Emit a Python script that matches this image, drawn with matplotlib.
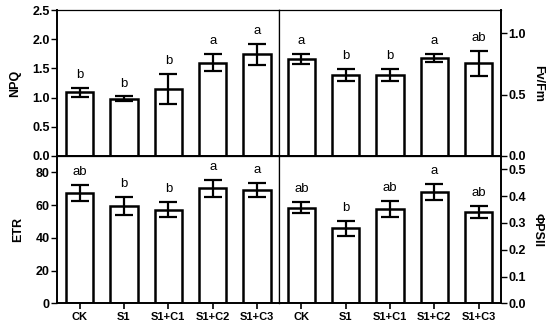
import matplotlib
matplotlib.use("Agg")
import matplotlib.pyplot as plt
import numpy as np

plt.rcParams['font.family'] = ['Liberation Sans', 'DejaVu Sans']

groups = ['CK', 'S1', 'S1+C1', 'S1+C2', 'S1+C3']

npq = [1.09, 0.98, 1.15, 1.60, 1.74]
npq_err = [0.08, 0.04, 0.26, 0.15, 0.18]
npq_sig = ['b', 'b', 'b', 'a', 'a']

fvfm = [0.79, 0.66, 0.66, 0.80, 0.755]
fvfm_err = [0.04, 0.05, 0.05, 0.035, 0.10]
fvfm_sig = ['a', 'b', 'b', 'a', 'ab']

etr = [67.5, 59.3, 57.3, 70.3, 69.2]
etr_err = [5.0, 5.6, 4.4, 5.3, 4.1]
etr_sig = ['ab', 'b', 'b', 'a', 'a']

phipsii = [0.357, 0.280, 0.353, 0.417, 0.341]
phipsii_err = [0.020, 0.028, 0.030, 0.030, 0.021]
phipsii_sig = ['ab', 'b', 'ab', 'a', 'ab']

fig = plt.figure(figsize=(5.5, 3.25), dpi=100)

ax_npq = fig.add_axes([0.1045, 0.52, 0.403, 0.449])
ax_fv = fig.add_axes([0.5075, 0.52, 0.403, 0.449])
ax_etr = fig.add_axes([0.1045, 0.0668, 0.403, 0.4532])
ax_phi = fig.add_axes([0.5075, 0.0668, 0.403, 0.4532])

x = np.arange(len(groups))


def draw(ax, vals, errs, sig, ylim, yticks, ylabel, right=False, bottom=False, fmt='%.1f'):
    ax.bar(x, vals, width=0.62, color='white', edgecolor='black', linewidth=1.8, zorder=2)
    ax.errorbar(x, vals, yerr=errs, fmt='none', ecolor='black', elinewidth=1.6,
                capsize=6.5, capthick=1.6, zorder=3)
    for xi, v, e, s in zip(x, vals, errs, sig):
        ax.annotate(s, (xi, v + e), xytext=(0, 5), textcoords='offset points',
                    ha='center', va='bottom', fontsize=9.5)
    ax.set_xlim(-0.5, 4.5)
    ax.set_ylim(*ylim)
    ax.set_yticks(yticks)
    ax.set_yticklabels([fmt % t for t in yticks], fontweight='bold', fontsize=9)
    for sp in ax.spines.values():
        sp.set_linewidth(0.9)
    ax.spines['bottom'].set_linewidth(1.4)
    if right:
        ax.yaxis.tick_right()
        ax.yaxis.set_label_position('right')
        ax.spines['right'].set_linewidth(1.4)
        ax.set_ylabel(ylabel, fontweight='bold', fontsize=9, rotation=270, labelpad=13)
    else:
        ax.spines['left'].set_linewidth(1.4)
        ax.set_ylabel(ylabel, fontweight='bold', fontsize=9, labelpad=8)
    ax.tick_params(axis='y', length=4, width=1.0, pad=1.5)
    if bottom:
        ax.set_xticks(x)
        ax.set_xticklabels(groups, fontweight='bold', fontsize=8)
        ax.tick_params(axis='x', length=4, width=1.2, pad=2)
    else:
        ax.set_xticks([])


draw(ax_npq, npq, npq_err, npq_sig, (0, 2.5), [0, 0.5, 1.0, 1.5, 2.0, 2.5], 'NPQ')
draw(ax_fv, fvfm, fvfm_err, fvfm_sig, (0, 1.19), [0, 0.5, 1.0], 'Fv/Fm', right=True)
draw(ax_etr, etr, etr_err, etr_sig, (0, 90), [0, 20, 40, 60, 80], 'ETR', bottom=True, fmt='%d')
draw(ax_phi, phipsii, phipsii_err, phipsii_sig, (0, 0.55), [0, 0.1, 0.2, 0.3, 0.4, 0.5],
     'ΦPSII', right=True, bottom=True)

fig.savefig('out.png', dpi=100)
